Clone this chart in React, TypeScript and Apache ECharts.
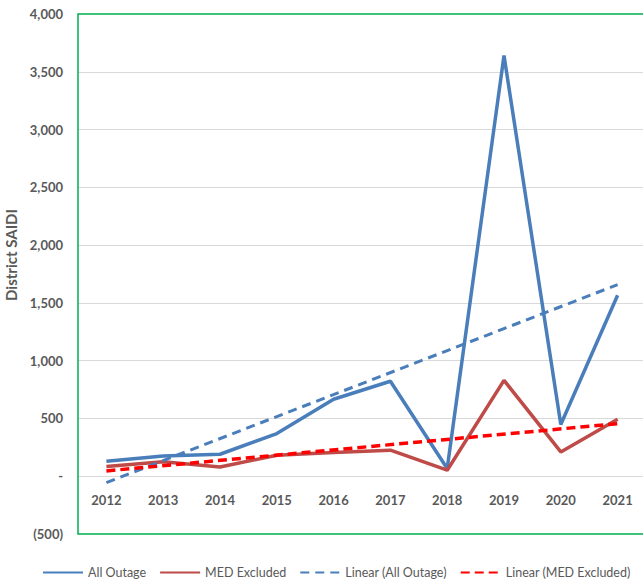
import React, { useEffect, useRef } from "react";
import * as echarts from "echarts";

const years = ["2012", "2013", "2014", "2015", "2016", "2017", "2018", "2019", "2020", "2021"];
const allOutage = [130, 175, 190, 369, 666, 822, 67, 3640, 447, 1566];
const medExcluded = [85, 125, 80, 182, 205, 225, 52, 830, 210, 493];
const linearAll = [-55, null, null, null, null, null, null, null, null, 1658];
const linearMed = [46, null, null, null, null, null, null, null, null, 455];

const FONT = "Lato, 'Open Sans', sans-serif";
const GRAY = "#595959";
const Y_MIN = -500;
const Y_MAX = 4000;
const GRID_H = 520;

export default function App() {
  const ref = useRef<HTMLDivElement>(null);
  useEffect(() => {
    const chart = echarts.init(ref.current!, undefined, { renderer: "svg" });
    const zeroOffset = -((0 - Y_MIN) / (Y_MAX - Y_MIN)) * GRID_H;
    chart.setOption({
      animation: false,
      textStyle: { fontFamily: FONT },
      grid: {
        left: 78,
        top: 14,
        right: -3,
        height: GRID_H,
        show: true,
        borderColor: "#00b050",
        borderWidth: 1.5,
        containLabel: false,
        outerBoundsMode: "none",
        z: 3,
      },
      legend: {
        bottom: 3,
        left: 37,
        width: 640,
        itemWidth: 40,
        itemHeight: 10,
        itemGap: 13,
        itemStyle: { opacity: 0 },
        textStyle: { fontSize: 12.5, color: GRAY, fontFamily: FONT },
        data: ["All Outage", "MED Excluded", "Linear (All Outage)", "Linear (MED Excluded)"],
      },
      xAxis: {
        type: "category",
        data: years,
        boundaryGap: true,
        offset: zeroOffset,
        axisLine: { show: false, onZero: false },
        axisTick: { show: false },
        axisLabel: { color: GRAY, fontWeight: "bold", fontSize: 13, margin: 17, fontFamily: FONT },
        splitLine: { show: false },
      },
      yAxis: {
        type: "value",
        min: Y_MIN,
        max: Y_MAX,
        interval: 500,
        name: "District SAIDI",
        nameLocation: "middle",
        nameGap: 54,
        nameTextStyle: {
          color: GRAY,
          fontWeight: "bold",
          fontSize: 15,
          fontFamily: FONT,
          padding: [0, 0, 0, 38],
        },
        axisLine: { show: false },
        axisTick: { show: false },
        axisLabel: {
          color: GRAY,
          fontWeight: "bold",
          fontSize: 13,
          margin: 15,
          fontFamily: FONT,
          formatter: (v: number) => {
            if (v === 0) return "-";
            if (v < 0) return "(" + Math.abs(v).toLocaleString("en-US") + ")";
            return v.toLocaleString("en-US");
          },
        },
        splitLine: {
          showMinLine: false,
          showMaxLine: false,
          lineStyle: { color: "#d9d9d9", width: 1 },
        },
      },
      series: [
        {
          name: "All Outage",
          type: "line",
          data: allOutage,
          symbol: "none",
          lineStyle: { color: "#4a7ebb", width: 3.5 },
          itemStyle: { color: "#4a7ebb" },
        },
        {
          name: "MED Excluded",
          type: "line",
          data: medExcluded,
          symbol: "none",
          lineStyle: { color: "#be4b48", width: 3.5 },
          itemStyle: { color: "#be4b48" },
        },
        {
          name: "Linear (All Outage)",
          type: "line",
          data: linearAll,
          connectNulls: true,
          symbol: "none",
          lineStyle: { color: "#4a7ebb", width: 3, type: [9, 6] },
          itemStyle: { color: "#4a7ebb" },
        },
        {
          name: "Linear (MED Excluded)",
          type: "line",
          data: linearMed,
          connectNulls: true,
          symbol: "none",
          lineStyle: { color: "#ff0000", width: 3.5, type: [9, 5] },
          itemStyle: { color: "#ff0000" },
        },
      ],
    });
    return () => chart.dispose();
  }, []);
  return (
    <div
      ref={ref}
      style={{ position: "fixed", left: 0, top: 0, width: 643, height: 587, background: "#fff" }}
    />
  );
}
